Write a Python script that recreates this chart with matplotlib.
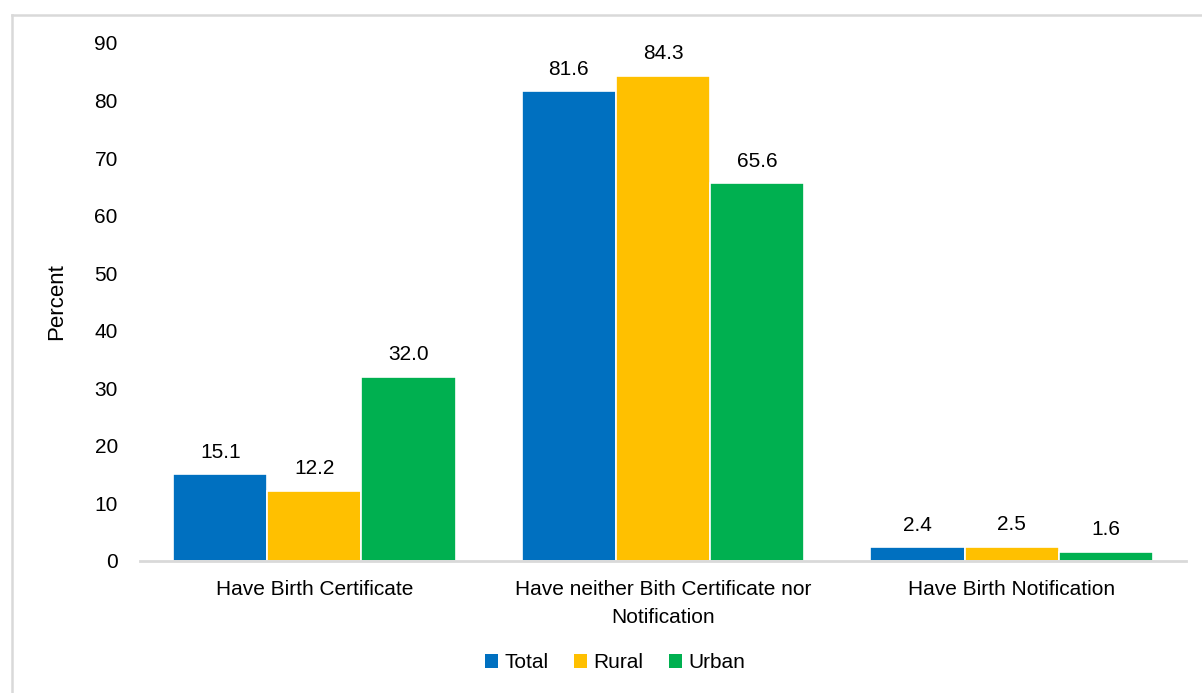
import numpy as np
import matplotlib
matplotlib.use("Agg")
import matplotlib.pyplot as plt
from matplotlib.lines import Line2D
from matplotlib.patches import Patch

categories = ["Have Birth Certificate",
              "Have neither Bith Certificate nor\nNotification",
              "Have Birth Notification"]
series = ["Total", "Rural", "Urban"]
total = [15.1, 81.6, 2.4]
rural = [12.2, 84.3, 2.5]
urban = [32.0, 65.6, 1.6]
yticks = [0, 10, 20, 30, 40, 50, 60, 70, 80, 90]

COLORS = ["#0070C0", "#FFC000", "#00B050"]
AXIS = "#d9d9d9"
FS = 15

plt.rcParams.update({"font.family": ["Liberation Sans", "DejaVu Sans"], "font.size": FS})

W, H = 1202, 693
fig = plt.figure(figsize=(W / 100, H / 100), dpi=100)
ax = fig.add_axes([140 / W, 1 - 561 / H, (1186 - 140) / W, (561 - 43) / H])

x = np.arange(len(categories))
bw = 0.27
for i, (name, vals) in enumerate(zip(series, [total, rural, urban])):
    pos = x + (i - 1) * bw
    bars = ax.bar(pos, vals, width=bw, color=COLORS[i], edgecolor="white",
                  linewidth=1.2, label=name, zorder=2)
    for b, v in zip(bars, vals):
        ax.annotate("%.1f" % v, (b.get_x() + b.get_width() / 2, v),
                    xytext=(0, 9), textcoords="offset points",
                    ha="center", va="bottom", fontsize=FS, color="#000000")

ax.set_xlim(-0.5, 2.5)
ax.set_ylim(0, 90)
ax.set_yticks(yticks)
ax.set_xticks(x)
ax.set_xticklabels(categories, fontsize=FS, linespacing=1.55)
ax.tick_params(axis="both", length=0, colors="black", labelsize=FS)
ax.tick_params(axis="x", pad=14)
ax.tick_params(axis="y", pad=16)
for s in ("top", "right", "left"):
    ax.spines[s].set_visible(False)
ax.spines["bottom"].set_color(AXIS)
ax.spines["bottom"].set_linewidth(2)
ax.set_ylabel("Percent", fontsize=FS + 1, labelpad=20)

handles = [Patch(facecolor=c, edgecolor="none", label=n) for c, n in zip(COLORS, series)]
fig.legend(handles=handles, loc="center", bbox_to_anchor=(615 / W, 1 - 663 / H),
           ncol=3, frameon=False, fontsize=FS, handlelength=0.65, handleheight=0.65,
           handletextpad=0.3, columnspacing=1.2)

# outer chart border (top and left edges visible)
fig.add_artist(Line2D([12 / W, 1], [1 - 15 / H, 1 - 15 / H], color=AXIS, lw=1.8,
                      transform=fig.transFigure))
fig.add_artist(Line2D([12 / W, 12 / W], [1 - 15 / H, 0], color=AXIS, lw=1.8,
                      transform=fig.transFigure))

fig.savefig("out.png", dpi=100, facecolor="white")
